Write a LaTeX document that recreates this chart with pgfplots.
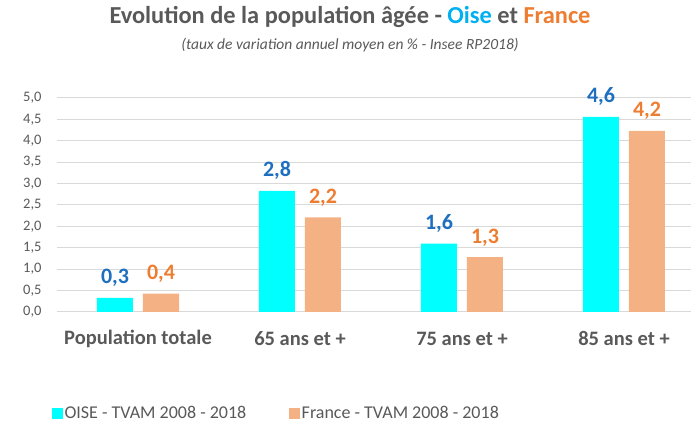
\documentclass[border=0pt]{standalone}
\usepackage{fontspec}
\setmainfont{Carlito}
\usepackage{pgfplots}
\pgfplotsset{compat=1.18}
\definecolor{txtgray}{HTML}{595959}
\definecolor{gridgray}{HTML}{D9D9D9}
\definecolor{oisebar}{HTML}{00FFFF}
\definecolor{francebar}{HTML}{F4B183}
\definecolor{oiselab}{HTML}{1F6FC0}
\definecolor{francelab}{HTML}{ED7D31}
\definecolor{oisetitle}{HTML}{00B0F0}
\begin{document}
\begin{tikzpicture}
\useasboundingbox (0,0) rectangle (691pt,427pt);
\node[font=\fontsize{24.4}{28}\selectfont\bfseries, text=txtgray] at (350pt,410pt)
  {Evolution de la population âgée - \textcolor{oisetitle}{Oise} et \textcolor{francelab}{France}};
\node[font=\fontsize{15.5}{18}\selectfont\itshape, text=txtgray] at (350pt,382pt)
  {(taux de variation annuel moyen en \% - Insee RP2018)};
\begin{axis}[
  at={(57pt,115pt)}, anchor=south west,
  scale only axis, width=634pt, height=214pt,
  xmin=-0.5, xmax=3.4136, ymin=0, ymax=5,
  axis line style={draw=none},
  tick style={draw=none},
  ymajorgrids, grid style={gridgray, line width=1pt},
  ytick={0,0.5,...,5},
  yticklabel style={font=\fontsize{14.5}{18}\selectfont, text=txtgray, anchor=east, xshift=-12pt},
  /pgf/number format/.cd, fixed, fixed zerofill, precision=1, use comma, assume math mode=true, /pgfplots/.cd,
  xtick={0,1,2,3},
  xticklabels={Population totale, 65 ans et +, 75 ans et +, 85 ans et +},
  xticklabel style={font=\fontsize{20.5}{22}\selectfont\bfseries, text=txtgray, anchor=center, yshift=-27pt},
  major tick length=0pt,
  ybar, bar width=36pt,
  clip=false,
  nodes near coords,
  nodes near coords style={font=\fontsize{22}{24}\selectfont\bfseries, anchor=base, yshift=14pt, inner sep=0pt},
  legend columns=2,
  legend style={at={(-0.008,-0.472)}, anchor=west, draw=none, fill=none, inner sep=0pt,
    font=\fontsize{18}{20}\selectfont, text=txtgray, cells={anchor=west},
    /tikz/every even column/.append style={column sep=41pt}},
]
\addplot[draw=none, fill=oisebar, bar shift=-23pt, forget plot,
  every node near coord/.append style={text=oiselab}]
  coordinates {(0,0.33) (1,2.83) (2,1.60) (3,4.56)};
\addplot[draw=none, fill=francebar, bar shift=23pt, forget plot,
  every node near coord/.append style={text=francelab}]
  coordinates {(0,0.43) (1,2.21) (2,1.28) (3,4.23)};
\addlegendimage{legend image code/.code={\fill[oisebar] (0pt,-5pt) rectangle (10pt,5pt);}}
\addlegendentry{OISE - TVAM 2008 - 2018}
\addlegendimage{legend image code/.code={\fill[francebar] (0pt,-5pt) rectangle (10pt,5pt);}}
\addlegendentry{France - TVAM 2008 - 2018}
\end{axis}
\end{tikzpicture}
\end{document}
